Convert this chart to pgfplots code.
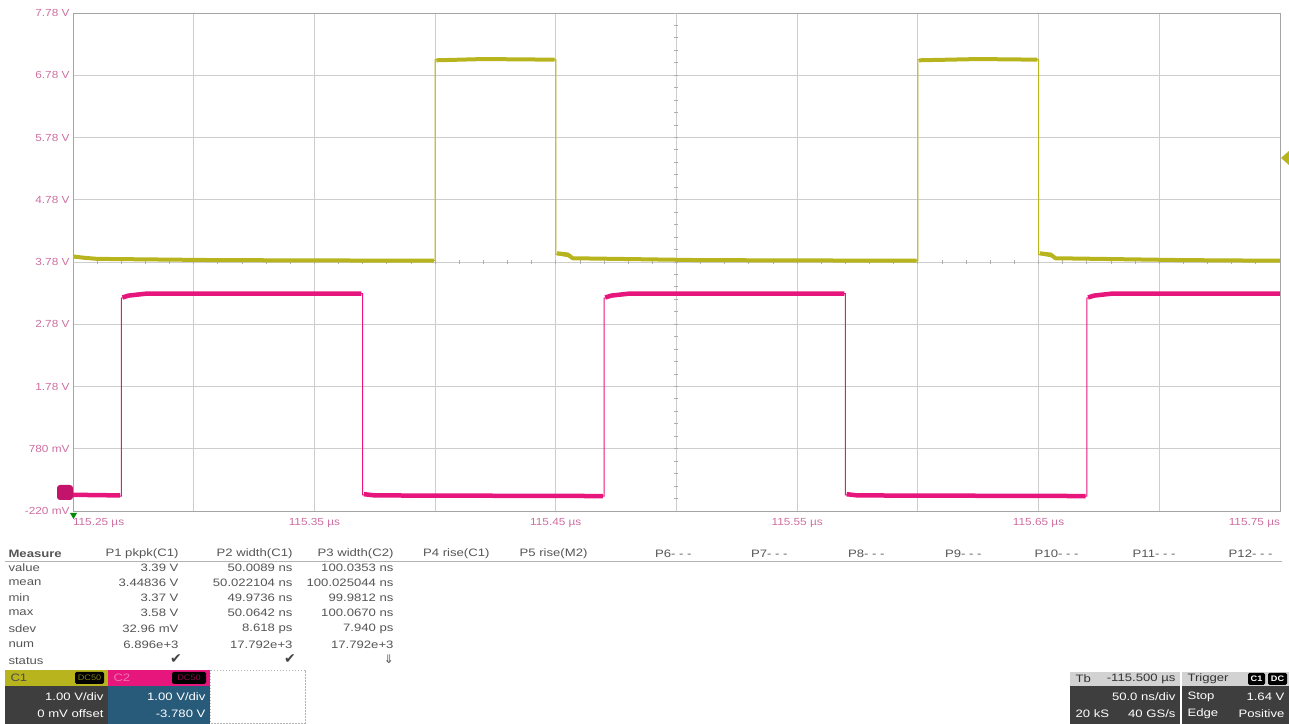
\documentclass[border=0pt]{standalone}
\usepackage{fontspec}
\setmainfont{Liberation Sans}[FakeStretch=1.15]
\newfontfamily\tblfont{Liberation Sans}[FakeStretch=1.22]
\newfontfamily\sym{DejaVu Sans}
\usepackage{pgfplots}
\pgfplotsset{compat=1.18}
\definecolor{cyel}{RGB}{183,180,30}
\definecolor{cmag}{RGB}{230,22,125}
\definecolor{cgrid}{RGB}{205,205,205}
\definecolor{ctick}{RGB}{205,110,160}
\definecolor{ctxt}{RGB}{85,85,85}
\definecolor{cdark}{RGB}{62,62,62}
\definecolor{cblue}{RGB}{40,90,122}
\newcommand{\tf}{\tblfont\fontsize{10.8}{12}\selectfont}
\begin{document}
\begin{tikzpicture}[x=1bp,y=1bp]
\path[use as bounding box] (0,0) rectangle (1289,724);
\begin{axis}[
  at={(73bp,213bp)}, anchor=south west,
  scale only axis, width=1207bp, height=498bp,
  xmin=0, xmax=500, ymin=-0.22, ymax=7.78,
  xtick={0,50,...,500},
  xticklabels={\rlap{115.25 µs},,115.35 µs,,115.45 µs,,115.55 µs,,115.65 µs,,\llap{115.75 µs}},
  ytick={-0.22,0.78,1.78,2.78,3.78,4.78,5.78,6.78,7.78},
  yticklabels={-220 mV,780 mV,1.78 V,2.78 V,3.78 V,4.78 V,5.78 V,6.78 V,7.78 V},
  grid=major, major grid style={cgrid, line width=0.8bp},
  axis line style={cgrid!80!black, line width=0.8bp},
  tick style={draw=none},
  ticklabel style={font=\fontsize{10.3}{12}\selectfont, text=ctick},
  xticklabel style={yshift=-4bp},
]
% centre graticule lines with small ticks
\draw[cgrid!85!black, line width=4bp, dash pattern=on 0.9bp off 23.24bp, dash phase=0.45bp] (axis cs:0,3.78) -- (axis cs:500,3.78);
\draw[cgrid!85!black, line width=4bp, dash pattern=on 0.9bp off 11.55bp, dash phase=0.45bp] (axis cs:250,-0.22) -- (axis cs:250,7.78);
% C1 (yellow)
\addplot[cyel, line width=1bp] coordinates {(0,3.85)(10,3.82)(150,3.80)(150,7.03)(200,7.03)(200,3.90)(210,3.83)(350,3.80)(350,7.03)(400,7.03)(400,3.90)(410,3.83)(500,3.80)};
\addplot[cyel, line width=4bp, forget plot] coordinates {(0,3.87)(4,3.85)(10,3.83)(60,3.81)(149.5,3.80)};
\addplot[cyel, line width=4bp, forget plot] coordinates {(150.5,7.02)(170,7.04)(199.5,7.03)};
\addplot[cyel, line width=4bp, forget plot] coordinates {(200.5,3.92)(205,3.90)(207,3.84)(260,3.81)(349.5,3.80)};
\addplot[cyel, line width=4bp, forget plot] coordinates {(350.5,7.02)(375,7.04)(399.5,7.03)};
\addplot[cyel, line width=4bp, forget plot] coordinates {(400.5,3.92)(405,3.90)(407,3.84)(460,3.81)(500,3.80)};
% C2 (magenta)
\addplot[cmag, line width=1bp] coordinates {(0,0.03)(20,0.02)(20,3.2)(30,3.27)(120,3.27)(120,0.04)(220,0.02)(220,3.2)(230,3.27)(320,3.27)(320,0.04)(420,0.02)(420,3.2)(430,3.27)(500,3.27)};
\addplot[cmag, line width=4.5bp, forget plot] coordinates {(0,0.04)(19.5,0.03)};
\addplot[cmag, line width=4.5bp, forget plot] coordinates {(20.5,3.21)(23,3.24)(30,3.27)(119.5,3.27)};
\addplot[cmag, line width=4.5bp, forget plot] coordinates {(120.5,0.05)(125,0.03)(219.5,0.02)};
\addplot[cmag, line width=4.5bp, forget plot] coordinates {(220.5,3.21)(223,3.24)(230,3.27)(319.5,3.27)};
\addplot[cmag, line width=4.5bp, forget plot] coordinates {(320.5,0.05)(325,0.03)(419.5,0.02)};
\addplot[cmag, line width=4.5bp, forget plot] coordinates {(420.5,3.21)(423,3.24)(430,3.27)(500,3.27)};
\end{axis}
\begin{scope}[yshift=724bp, y=-1bp]
% markers
\fill[cmag!85!black, rounded corners=3bp] (57,485) rectangle (73,500);
\fill[cyel] (1289,151) -- (1281,158) -- (1289,165) -- cycle;
\fill[green!55!black] (70,513) -- (77,513) -- (73.5,519) -- cycle;
% measurement table
\draw[gray!60, line width=0.8bp] (5,561) -- (1282,561);
\node[anchor=west, text=ctxt, font=\tf\bfseries] at (5,554) {Measure};
\foreach \t/\x in {P1 pkpk(C1)/182, P2 width(C1)/296, P3 width(C2)/397, P4 rise(C1)/493, P5 rise(M2)/591, P6- - -/695, P7- - -/791, P8- - -/888, P9- - -/985, P10- - -/1082, P11- - -/1179, P12- - -/1276}
  \node[anchor=east, text=ctxt, font=\tf] at (\x,554) {\t};
\foreach \t/\y in {value/568, mean/583, min/598, max/613, sdev/629, num/645, status/661}
  \node[anchor=west, text=ctxt, font=\tf] at (5,\y) {\t};
\foreach \t/\y in {3.39 V/568, 3.44836 V/583, 3.37 V/598, 3.58 V/613, 32.96 mV/629, 6.896e+3/645}
  \node[anchor=east, text=ctxt, font=\tf] at (182,\y) {\t};
\foreach \t/\y in {50.0089 ns/568, 50.022104 ns/583, 49.9736 ns/598, 50.0642 ns/613, 8.618 ps/629, 17.792e+3/645}
  \node[anchor=east, text=ctxt, font=\tf] at (296,\y) {\t};
\foreach \t/\y in {100.0353 ns/568, 100.025044 ns/583, 99.9812 ns/598, 100.0670 ns/613, 7.940 ps/629, 17.792e+3/645}
  \node[anchor=east, text=ctxt, font=\tf] at (397,\y) {\t};
\node[anchor=east, text=ctxt!80!black, font=\sym\fontsize{14}{14}\selectfont, inner sep=1bp] at (183,659) {✔};
\node[anchor=east, text=ctxt!80!black, font=\sym\fontsize{14}{14}\selectfont, inner sep=1bp] at (297,659) {✔};
\node[anchor=east, text=ctxt, font=\sym\fontsize{12}{12}\selectfont, inner sep=1bp] at (395,659) {⇓};
% channel boxes
\fill[cyel] (5,670) rectangle (108,686);
\fill[black, rounded corners=1.5bp] (75,672) rectangle (104,684);
\node[anchor=west, text=black!70, font=\tf] at (7,678) {C1};
\node[text=cyel!70!black, font=\fontsize{8}{9}\selectfont] at (89.5,678) {DC50};
\fill[cmag] (108,670) rectangle (210,686);
\fill[black, rounded corners=1.5bp] (172,672) rectangle (206,684);
\node[anchor=west, text=cmag!60!white, font=\tf] at (110,678) {C2};
\node[text=cmag!60!black, font=\fontsize{8}{9}\selectfont] at (189,678) {DC50};
\fill[cdark] (5,686) rectangle (108,724);
\fill[cblue] (108,686) rectangle (210,724);
\node[anchor=east, text=white, font=\tf] at (107,697) {1.00 V/div};
\node[anchor=east, text=white, font=\tf] at (107,714) {0 mV offset};
\node[anchor=east, text=white, font=\tf] at (209,697) {1.00 V/div};
\node[anchor=east, text=white, font=\tf] at (209,714) {-3.780 V};
\draw[gray!60, dash pattern=on 1.5bp off 1.5bp] (210,670) rectangle (305,723);
% timebase / trigger panel
\fill[gray!35] (1070,672) rectangle (1180,686);
\fill[cdark] (1070,686) rectangle (1180,724);
\fill[gray!35] (1182,672) rectangle (1289,686);
\fill[cdark] (1182,686) rectangle (1289,724);
\node[anchor=west, text=black!80, font=\tf] at (1072,679) {Tb};
\node[anchor=east, text=black!80, font=\tf] at (1179,679) {-115.500 µs};
\node[anchor=east, text=white, font=\tf] at (1179,697) {50.0 ns/div};
\node[anchor=west, text=white, font=\tf] at (1072,714) {20 kS};
\node[anchor=east, text=white, font=\tf] at (1179,714) {40 GS/s};
\node[anchor=west, text=black!80, font=\tf] at (1184,679) {Trigger};
\fill[black, rounded corners=1.5bp] (1248,673) rectangle (1265,685);
\fill[black, rounded corners=1.5bp] (1268,673) rectangle (1287,685);
\node[text=white, font=\fontsize{8}{9}\selectfont\bfseries] at (1256.5,679) {C1};
\node[text=white, font=\fontsize{8}{9}\selectfont\bfseries] at (1277.5,679) {DC};
\node[anchor=west, text=white, font=\tf] at (1184,697) {Stop};
\node[anchor=east, text=white, font=\tf] at (1288,697) {1.64 V};
\node[anchor=west, text=white, font=\tf] at (1184,714) {Edge};
\node[anchor=east, text=white, font=\tf] at (1288,714) {Positive};
\end{scope}
\end{tikzpicture}
\end{document}
